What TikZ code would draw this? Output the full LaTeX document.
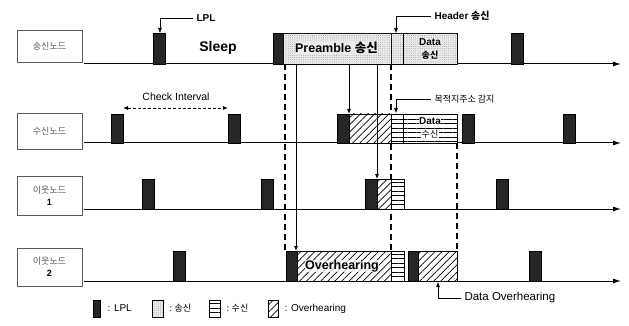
\documentclass[tikz,border=0pt]{standalone}
\usepackage{fontspec}
\setmainfont{Liberation Sans}
\newfontfamily\kr{Noto Sans CJK KR}
\usetikzlibrary{patterns.meta,arrows.meta}
\tikzset{
  tl/.style={line width=1pt,-{Latex[length=8pt,width=5pt]}},
  lpl/.style={fill=black!85,draw=black,line width=0.5pt},
  send/.style={draw=black,line width=0.6pt,fill=black!8,
    postaction={pattern={Dots[distance=2.2pt,radius=0.35pt]},pattern color=black!60}},
  recv/.style={draw=black,line width=0.6pt,fill=white,
    postaction={pattern={Lines[angle=0,distance=4.5pt,line width=0.7pt]}}},
  over/.style={draw=black,line width=0.6pt,fill=white,
    postaction={pattern={Lines[angle=45,distance=5pt,line width=0.7pt]}}},
  nodebox/.style={draw=black!65,line width=0.6pt,minimum width=65pt,align=center,
    text=black!65,font=\kr\fontsize{9}{12}\selectfont,inner sep=1pt},
  vdash/.style={line width=1.2pt,dash pattern=on 6pt off 4pt},
  vsolid/.style={line width=0.8pt,-{Latex[length=5pt,width=4pt]}},
  call/.style={line width=0.6pt,-{Latex[length=5pt,width=4pt]}},
  lbl/.style={inner sep=0.5pt},
}
\begin{document}
\begin{tikzpicture}[x=1pt,y=-1pt]
\useasboundingbox (0,0) rectangle (629,326);
% node label boxes
\node[nodebox,minimum height=32pt] (n1) at (49.5,46) {송신노드};
\node[nodebox,minimum height=36pt] (n2) at (49.5,131) {수신노드};
\node[nodebox,minimum height=39pt] (n3) at (49.5,195.5) {이웃노드\\{\normalfont\bfseries\color{black}1}};
\node[nodebox,minimum height=38pt] (n4) at (49.5,267) {이웃노드\\{\normalfont\bfseries\color{black}2}};
% timelines
\coordinate (t1s) at (84,64);  \coordinate (t1e) at (621,64);
\coordinate (t2s) at (84,143); \coordinate (t2e) at (621,143);
\coordinate (t3s) at (84,209); \coordinate (t3e) at (621,209);
\coordinate (t4s) at (84,281); \coordinate (t4e) at (621,281);
\draw[tl] (t1s) -- (t1e);
\draw[tl] (t2s) -- (t2e);
\draw[tl] (t3s) -- (t3e);
\draw[tl] (t4s) -- (t4e);
% vertical dashed lines
\draw[vdash] (285,64) -- (285,251);
\draw[vdash] (391,64) -- (391,251);
\draw[vdash] (457,143) -- (457,251);
% line 1: sender
\draw[lpl] (153,33) rectangle (165,64);
\draw[lpl] (273,33) rectangle (283,64);
\draw[send] (283,33) rectangle (391,64);
\draw[send] (391,33) rectangle (403,64);
\draw[send] (403,33) rectangle (457,64);
\draw[lpl] (511,33) rectangle (523,64);
\node[font=\bfseries\fontsize{14}{16}\selectfont] (sleep) at (218,48) {Sleep};
\node[lbl,font=\bfseries\fontsize{12.5}{14}\selectfont,fill=black!8] (pre) at (336.5,48) {Preamble {\kr 송신}};
\node[lbl,font=\bfseries\fontsize{10}{11}\selectfont,fill=black!8] (d1) at (430,42) {Data};
\node[lbl,font=\kr\bfseries\fontsize{9}{11}\selectfont,fill=black!8] (d2) at (430,55) {송신};
% line 2: receiver
\draw[lpl] (111,114) rectangle (123,143);
\draw[lpl] (228,114) rectangle (240,143);
\draw[lpl] (337,114) rectangle (349,143);
\draw[over] (349,114) rectangle (391,143);
\draw[recv] (391,114) rectangle (457,143);
\draw[line width=0.6pt] (403,114) -- (403,143);
\draw[lpl] (462,114) rectangle (474,143);
\draw[lpl] (563,114) rectangle (575,143);
\node[lbl,font=\bfseries\fontsize{10}{11}\selectfont,fill=white] (r1) at (430,121) {Data};
\node[lbl,font=\kr\fontsize{9}{11}\selectfont,fill=white] (r2) at (430,134) {수신};
% check interval
\coordinate (ci1) at (123,108); \coordinate (ci2) at (228,108);
\draw[line width=0.8pt,dash pattern=on 3pt off 2pt,{Latex[length=5pt,width=4pt]}-{Latex[length=5pt,width=4pt]}] (ci1) -- (ci2);
\node[font=\fontsize{10.5}{12}\selectfont] (cit) at (176,97) {Check Interval};
% line 3: neighbour 1
\draw[lpl] (142,179) rectangle (154,209);
\draw[lpl] (261,179) rectangle (273,209);
\draw[lpl] (365,179) rectangle (377,209);
\draw[over] (377,179) rectangle (391,209);
\draw[recv] (391,179) rectangle (404,209);
\draw[lpl] (496,179) rectangle (508,209);
% line 4: neighbour 2
\draw[lpl] (173,251) rectangle (185,281);
\draw[lpl] (286,251) rectangle (297,281);
\draw[over] (297,251) rectangle (391,281);
\draw[recv] (391,251) rectangle (404,281);
\draw[lpl] (408,251) rectangle (418,281);
\draw[over] (418,251) rectangle (457,281);
\draw[lpl] (529,251) rectangle (541,281);
\node[lbl,font=\bfseries\fontsize{12.5}{14}\selectfont,fill=white,fill opacity=0.75,text opacity=1] (ovt) at (342,266) {Overhearing};
% vertical solid arrows
\draw[vsolid] (296,64) -- (296,251);
\draw[vsolid] (349,64) -- (349,114);
\draw[vsolid] (377,64) -- (377,179);
% callouts
\node[font=\bfseries\fontsize{10}{12}\selectfont,anchor=west] (lplt) at (193,18) {LPL};
\draw[call] (lplt.west) -| (160,33);
\node[font=\bfseries\fontsize{10}{12}\selectfont,anchor=west] (hdr) at (431,16) {Header {\kr 송신}};
\draw[call] (hdr.west) -| (396,33);
\node[font=\kr\fontsize{9}{11}\selectfont,anchor=west] (dst) at (431,99) {목적지주소 감지};
\draw[call] (dst.west) -| (396,113);
\node[font=\fontsize{11.5}{13}\selectfont,anchor=west] (dov) at (461,298) {Data Overhearing};
\draw[call] (dov.west) -| (438,282);
% legend
\draw[lpl] (93,300) rectangle (100,317);
\node[anchor=west,font=\fontsize{10}{12}\selectfont] (lg1) at (104,308.5) {: LPL};
\draw[send] (152,300) rectangle (163,317);
\node[anchor=west,font=\kr\fontsize{9}{12}\selectfont] (lg2) at (166,308.5) {: 송신};
\draw[recv] (209,300) rectangle (220,317);
\node[anchor=west,font=\kr\fontsize{9}{12}\selectfont] (lg3) at (223,308.5) {: 수신};
\draw[over] (268,300) rectangle (278,317);
\node[anchor=west,font=\fontsize{10}{12}\selectfont] (lg4) at (281,308.5) {: Overhearing};
\end{tikzpicture}
\end{document}
